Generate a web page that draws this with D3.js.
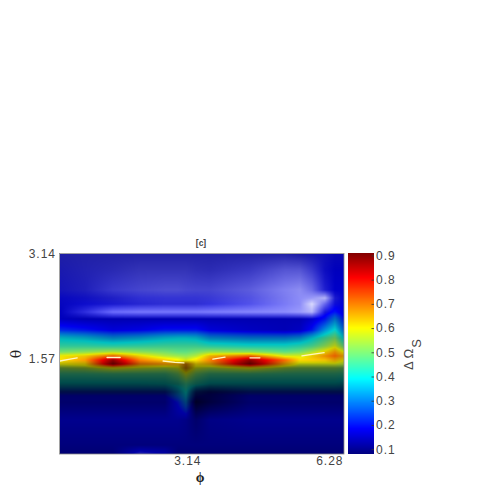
<!DOCTYPE html>
<html><head><meta charset="utf-8">
<script src="https://cdn.jsdelivr.net/npm/d3@7"></script>
<style>html,body{margin:0;padding:0;background:#fff}svg{display:block}text{font-family:"Liberation Sans",Arial,sans-serif;fill:#444}</style>
</head><body><svg id="c" width="485" height="485"></svg>
<script>
const phiGrid=[0,.553,1.172,1.769,2.322,2.609,2.786,3.007,3.317,4.202,4.976,5.307,5.572,5.859,6.08,6.28];
const thetaGrid=[3.14,2.889,2.575,2.449,2.355,2.229,2.12,1.947,1.821,1.696,1.601,1.539,1.476,1.413,1.35,1.256,1.099,.973,.816,.534,.141,0];
const omega=[
[.1,.1,.1,.1,.1,.1,.1,.1,.1,.1,.1,.1,.11,.12,.12,.12],
[.11,.11,.11,.11,.11,.11,.11,.11,.11,.12,.13,.13,.13,.13,.13,.13],
[.12,.12,.13,.13,.13,.13,.13,.13,.13,.14,.16,.16,.15,.14,.14,.14],
[.13,.13,.13,.14,.14,.14,.14,.14,.14,.15,.16,.17,.17,.16,.14,.14],
[.13,.14,.14,.14,.14,.14,.14,.14,.15,.16,.17,.17,.17,.16,.15,.15],
[.13,.15,.18,.18,.18,.18,.18,.18,.18,.18,.18,.18,.17,.15,.2,.15],
[.13,.12,.12,.12,.12,.12,.12,.12,.12,.12,.12,.12,.14,.2,.3,.2],
[.22,.2,.17,.18,.2,.2,.2,.2,.17,.15,.14,.15,.2,.32,.4,.28],
[.38,.36,.32,.34,.37,.38,.38,.37,.32,.3,.3,.32,.38,.45,.5,.38],
[.44,.44,.43,.44,.45,.45,.45,.45,.43,.41,.41,.43,.46,.52,.58,.48],
[.5,.52,.55,.52,.5,.48,.48,.5,.53,.52,.48,.5,.55,.62,.68,.6],
[.6,.63,.72,.62,.55,.53,.52,.55,.65,.72,.58,.58,.63,.68,.72,.66],
[.62,.68,.88,.7,.64,.6,.58,.62,.7,.88,.72,.63,.64,.64,.66,.6],
[.6,.62,.9,.7,.68,.66,.68,.62,.66,.9,.66,.58,.58,.58,.58,.55],
[.53,.55,.6,.57,.55,.58,.68,.58,.55,.6,.54,.52,.52,.52,.52,.5],
[.45,.45,.46,.46,.46,.5,.58,.5,.46,.46,.45,.45,.45,.45,.45,.44],
[.38,.38,.38,.38,.39,.42,.45,.42,.38,.38,.38,.38,.38,.38,.38,.36],
[.22,.22,.22,.22,.22,.32,.4,.24,.2,.22,.22,.22,.22,.22,.22,.22],
[.12,.12,.12,.12,.12,.2,.3,.13,.12,.12,.12,.12,.12,.12,.12,.12],
[.12,.12,.12,.12,.12,.12,.13,.12,.12,.12,.12,.12,.12,.12,.12,.12],
[.12,.12,.12,.12,.12,.12,.12,.12,.12,.12,.12,.12,.12,.12,.12,.12],
[.11,.11,.11,.11,.11,.11,.11,.11,.11,.11,.11,.11,.11,.11,.11,.11]];
const shade=[
[.12,.13,.13,.13,.13,.13,.13,.13,.13,.13,.13,.1,.08,.06,.03,.03],
[.1,.13,.16,.2,.2,.2,.2,.18,.17,.22,.33,.33,.22,.05,0,0],
[.08,.12,.22,.27,.3,.3,.28,.27,.27,.36,.5,.55,.42,.12,0,0],
[.03,.06,.12,.18,.2,.2,.2,.2,.22,.32,.48,.55,.6,.7,.1,0],
[.02,.05,.1,.15,.18,.18,.18,.18,.2,.32,.48,.55,.85,.4,.05,0],
[0,.18,.42,.46,.46,.46,.46,.46,.48,.52,.55,.6,.7,.1,-.05,0],
[0,0,0,0,0,0,0,0,0,0,0,0,0,-.1,-.25,-.2],
[-.1,-.1,-.1,-.1,-.1,-.1,-.1,-.1,-.1,-.1,-.1,-.1,-.1,-.15,-.2,-.25],
[-.28,-.28,-.28,-.28,-.28,-.28,-.28,-.28,-.28,-.28,-.28,-.28,-.28,-.28,-.28,-.35],
[-.22,-.22,-.22,-.22,-.22,-.22,-.22,-.22,-.22,-.22,-.22,-.22,-.22,-.22,-.22,-.3],
[-.12,-.12,-.12,-.12,-.12,-.12,-.12,-.12,-.12,-.12,-.12,-.12,-.12,-.12,-.12,-.2],
[-.08,-.08,-.08,-.08,-.08,-.08,-.08,-.08,-.08,-.08,-.08,-.08,-.08,-.08,-.1,-.2],
[0,0,-.1,0,0,0,-.1,0,0,-.1,0,0,0,-.05,-.15,-.25],
[-.3,-.3,-.35,-.3,-.25,-.3,-.5,-.3,-.3,-.35,-.3,-.3,-.3,-.3,-.3,-.3],
[-.55,-.55,-.5,-.5,-.5,-.5,-.6,-.5,-.5,-.5,-.55,-.55,-.55,-.55,-.55,-.55],
[-.62,-.62,-.62,-.62,-.62,-.58,-.55,-.58,-.62,-.62,-.62,-.62,-.62,-.62,-.62,-.62],
[-.72,-.72,-.72,-.72,-.72,-.68,-.6,-.68,-.72,-.72,-.72,-.72,-.72,-.72,-.72,-.72],
[-.72,-.72,-.72,-.72,-.72,-.65,-.6,-.78,-.8,-.72,-.72,-.72,-.72,-.72,-.72,-.72],
[-.4,-.4,-.4,-.4,-.4,-.4,-.55,-.8,-.65,-.4,-.4,-.4,-.4,-.4,-.4,-.4],
[-.2,-.2,-.2,-.2,-.2,-.2,-.3,-.4,-.25,-.2,-.2,-.2,-.2,-.2,-.2,-.2],
[-.3,-.3,-.3,-.3,-.3,-.3,-.3,-.3,-.3,-.3,-.3,-.3,-.3,-.3,-.3,-.3],
[-.3,-.3,-.3,.15,0,-.3,-.3,-.3,-.3,-.3,-.3,-.3,-.3,-.3,-.3,-.3]];
const highlights=[
[[0,1.46],[.22,1.49],[.38,1.51]],
[[1.04,1.515],[1.33,1.515]],
[[2.28,1.46],[2.54,1.44],[2.74,1.43]],
[[3.38,1.49],[3.65,1.52]],
[[4.2,1.51],[4.42,1.51]],
[[5.35,1.54],[5.84,1.59]]];
const phiTicks=[3.14,6.28], thetaTicks=[3.14,1.57], barTicks=[.1,.2,.3,.4,.5,.6,.7,.8,.9];
const barDomain=[.08,.908];

const P={l:60,r:344,t:254,b:454}, B={l:348,r:374};
const x=d3.scaleLinear().domain([0,6.28]).range([P.l,P.r]);
const y=d3.scaleLinear().domain([0,3.14]).range([P.b,P.t]);
const yBar=d3.scaleLinear().domain(barDomain).range([P.b,P.t-.5]);
function jet(v){const t=(v-barDomain[0])/(barDomain[1]-barDomain[0]);
  const f=a=>Math.max(0,Math.min(1,a));
  return [f(1.5-Math.abs(4*t-3)),f(1.5-Math.abs(4*t-2)),f(1.5-Math.abs(4*t-1))];}
function applyShade(c,s){return c.map(k=>255*(s<0?k*(1+s):k+(1-k)*s));}
const iPhi=d3.scaleLinear().domain(phiGrid).range(phiGrid.map((d,i)=>i)).clamp(true);
const iTheta=d3.scaleLinear().domain(thetaGrid).range(thetaGrid.map((d,i)=>i)).clamp(true);
function bil(M,a,b){const r=Math.min(Math.floor(a),M.length-2),c=Math.min(Math.floor(b),M[0].length-2),u=a-r,w=b-c;
  return M[r][c]*(1-u)*(1-w)+M[r][c+1]*(1-u)*w+M[r+1][c]*u*(1-w)+M[r+1][c+1]*u*w;}
function raster(w,h,fn){const cv=document.createElement("canvas");cv.width=w;cv.height=h;const g=cv.getContext("2d"),im=g.createImageData(w,h);
  for(let j=0;j<h;j++)for(let i=0;i<w;i++){const c=fn(i,j),o=4*(j*w+i);im.data[o]=c[0];im.data[o+1]=c[1];im.data[o+2]=c[2];im.data[o+3]=255;}
  g.putImageData(im,0,0);return cv.toDataURL();}
const svg=d3.select("#c");
const W=P.r-P.l,H=P.b-P.t;
svg.append("image").attr("x",P.l).attr("y",P.t).attr("width",W).attr("height",H).attr("href",raster(W,H,(i,j)=>{
  const a=iTheta(y.invert(P.t+j+.5)),b=iPhi(x.invert(P.l+i+.5));
  return applyShade(jet(bil(omega,a,b)),bil(shade,a,b));}));
const defs=svg.append("defs");
defs.append("filter").attr("id","soft").append("feGaussianBlur").attr("stdDeviation",.6);
const line=d3.line().x(d=>x(d[0])).y(d=>y(d[1]));
svg.append("g").attr("filter","url(#soft)").selectAll("path").data(highlights).join("path")
 .attr("d",line).attr("fill","none").attr("stroke","#fff6c0").attr("stroke-width",1.3).attr("stroke-linecap","round");
svg.append("rect").attr("x",P.l-.5).attr("y",P.t-.5).attr("width",W+.5).attr("height",H+.5).attr("fill","none").attr("stroke","#8a8a8a").attr("stroke-width",.8);
const bh=P.b-P.t;
svg.append("image").attr("x",B.l).attr("y",P.t-1).attr("width",B.r-B.l).attr("height",bh+1).attr("preserveAspectRatio","none")
 .attr("href",raster(1,bh,(i,j)=>jet(yBar.invert(P.t+j+.5)).map(k=>k*255)));
const styleAxis=g=>{g.select(".domain").remove();g.selectAll("text").attr("fill","#444").attr("font-size",12).style("letter-spacing","1px");};
svg.append("g").attr("transform",`translate(0,${P.b})`).call(d3.axisBottom(x).tickValues(phiTicks).tickSize(0).tickFormat(d3.format(".2f"))).call(styleAxis)
 .selectAll("text").attr("text-anchor","end").attr("x",-1).attr("y",0).attr("dy","0.9em");
svg.append("g").attr("transform",`translate(${P.l},0)`).call(d3.axisLeft(y).tickValues(thetaTicks).tickSize(0).tickFormat(d3.format(".2f"))).call(styleAxis)
 .selectAll("text").attr("x",-4).attr("dy",d=>d===3.14?"0.3em":"0.72em");
const gb=svg.append("g").attr("transform",`translate(${B.r},0)`).call(d3.axisRight(yBar).tickValues(barTicks).tickSize(0).tickFormat(d3.format(".1f"))).call(styleAxis);
gb.selectAll("text").attr("x",2);
gb.selectAll("line").attr("x2",-2.5).attr("stroke","#333").attr("stroke-width",.8);
svg.append("text").attr("x",201).attr("y",246).attr("text-anchor","middle").attr("font-size",8.5).attr("font-weight","bold").text("[c]");
svg.append("text").attr("x",200).attr("y",481.5).attr("text-anchor","middle").attr("font-size",14).attr("font-weight","bold").style("font-family","'Liberation Serif',serif").style("fill","#222").text("ϕ");
svg.append("text").attr("transform","translate(21,354) rotate(-90)").attr("text-anchor","middle").attr("font-size",14).style("font-family","'DejaVu Serif',serif").style("fill","#222").text("θ");
const t=svg.append("text").attr("transform","translate(413,370) rotate(-90)").attr("font-size",13);
t.append("tspan").text("Δ Ω");
t.append("tspan").attr("dy",8).attr("dx",1).text("S");
</script></body></html>
